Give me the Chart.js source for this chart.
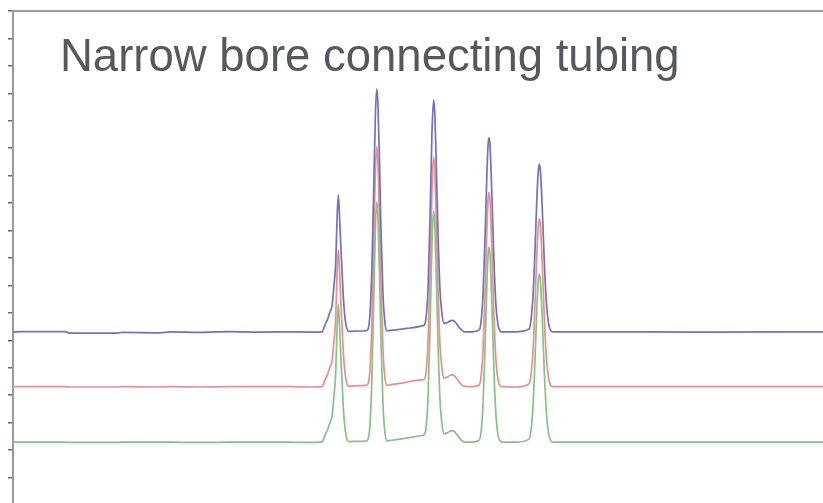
<!DOCTYPE html>
<html>
<head>
<meta charset="utf-8">
<script src="https://cdn.jsdelivr.net/npm/chart.js@4"></script>
<style>
  html, body { margin: 0; padding: 0; background: #fff; overflow: hidden; }
  #wrap { position: relative; width: 823px; height: 505px; }
</style>
</head>
<body>
<div id="wrap"><canvas id="myChart"></canvas></div>
<script>
const chartTitle = 'Narrow bore connecting tubing'

// retention time, min
const times = [
  0, 0.27, 0.52, 0.57, 1.05, 1.09, 1.47, 1.57, 1.87, 2.17, 2.47, 2.77, 2.97,
  3.09, 3.12, 3.15, 3.17, 3.19, 3.21, 3.227, 3.24, 3.253, 3.265, 3.28, 3.29, 3.305, 3.32, 3.335, 3.35, 3.37,
  3.45, 3.53,
  3.55, 3.57, 3.59, 3.61, 3.625, 3.638, 3.65, 3.665, 3.68, 3.70, 3.72, 3.74,
  3.77, 3.87, 3.97, 4.05,
  4.09, 4.11, 4.13, 4.15, 4.17, 4.19, 4.207, 4.22, 4.235, 4.25, 4.27, 4.29, 4.31, 4.34, 4.37, 4.40, 4.43, 4.46, 4.49, 4.52,
  4.59,
  4.66, 4.68, 4.70, 4.72, 4.74, 4.75, 4.76, 4.77, 4.79, 4.81, 4.83, 4.85, 4.87, 4.89,
  5.02,
  5.16, 5.18, 5.20, 5.22, 5.24, 5.253, 5.263, 5.275, 5.295, 5.315, 5.335, 5.355, 5.375, 5.40,
  5.87, 6.87, 8.10
]

// detector signal, mAU (traces shown offset)
const blueTrace = [
  63.1, 63.2, 63.2, 62.6, 62.6, 62.9, 62.75, 63.05, 62.9, 63.2, 63.0, 63.1, 63.0,
  63.1, 65.6, 68.1, 70.3, 72.5, 80.1, 88.1, 103.8, 112.9, 105.6, 92.9, 85.6, 74.7, 68.1, 64.8, 63.4, 63.3,
  63.4, 63.5,
  64.1, 69.6, 87.8, 120.2, 143.5, 151.5, 145.4, 125.0, 100.2, 76.5, 66.3, 63.5,
  63.6, 64.0, 64.5, 64.9,
  65.3, 65.5, 68.0, 78.7, 104.2, 136.2, 147.5, 141.0, 120.6, 99.4, 78.3, 69.6, 66.2, 66.4, 67.1, 67.3, 66.3, 64.8, 63.6, 63.1,
  63.1,
  63.7, 66.6, 76.5, 96.9, 121.7, 130.8, 133.9, 131.1, 111.8, 88.5, 72.5, 65.6, 63.5, 63.1,
  63.1,
  64.1, 67.4, 76.1, 92.9, 112.9, 121.7, 124.2, 121.3, 106.0, 86.9, 73.2, 66.3, 63.7, 63.1,
  63.1, 63.0, 63.1
]

const redTrace = [
  43.1, 43.1, 43.1, 43.0, 43.0, 43.1, 43.0, 43.1, 43.0, 43.1, 43.1, 43.1, 43.0,
  43.1, 45.6, 48.1, 50.3, 52.5, 60.1, 68.1, 83.8, 93.0, 85.6, 72.9, 65.6, 54.7, 48.1, 44.8, 43.4, 43.3,
  43.5, 43.6,
  44.1, 49.5, 67.5, 99.7, 122.7, 130.6, 124.6, 104.4, 79.8, 56.3, 46.2, 43.6,
  43.8, 44.3, 45.0, 45.5,
  45.6, 45.8, 48.3, 58.8, 84.0, 115.6, 126.9, 120.4, 100.1, 79.1, 58.2, 49.6, 46.3, 46.5, 47.2, 47.4, 46.4, 44.9, 43.7, 43.2,
  43.1,
  43.7, 46.6, 56.5, 76.9, 101.7, 110.8, 113.9, 111.1, 91.8, 68.5, 52.5, 45.6, 43.5, 43.1,
  43.0,
  44.1, 47.4, 56.1, 72.9, 92.9, 101.7, 104.3, 101.3, 86.0, 66.9, 53.2, 46.3, 43.7, 43.1,
  43.1, 43.1, 43.1
]

const greenTrace = [
  22.9, 22.9, 22.9, 22.8, 22.8, 22.9, 22.9, 22.9, 22.8, 22.9, 22.9, 22.9, 22.8,
  22.9, 25.4, 27.9, 30.1, 32.3, 40.0, 48.1, 63.8, 73.2, 65.6, 52.8, 45.4, 34.5, 27.9, 24.6, 23.2, 23.1,
  23.2, 23.3,
  24.0, 29.4, 47.4, 79.5, 102.5, 110.4, 104.4, 84.2, 59.7, 36.3, 26.2, 23.4,
  23.5, 24.0, 24.6, 25.1,
  25.4, 25.6, 28.1, 38.7, 64.0, 95.8, 107.1, 100.6, 80.4, 59.3, 38.2, 29.5, 26.0, 26.2, 26.9, 27.1, 26.1, 24.6, 23.4, 22.9,
  22.9,
  23.6, 26.5, 36.4, 56.9, 81.8, 90.9, 94.0, 91.2, 71.8, 48.5, 32.4, 25.5, 23.4, 22.9,
  22.9,
  24.0, 27.3, 36.0, 52.8, 72.8, 81.6, 84.1, 81.2, 65.9, 46.8, 33.1, 26.2, 23.6, 22.9,
  22.9, 22.9, 22.9
]

const timeMin = 0
const timeMax = 8.1
const signalMin = 0
const signalMax = 180
const signalStep = 10

function toPoints (ys) {
  return times.map((t, i) => ({ x: t, y: ys[i] }))
}

function trace (label, ys, color) {
  return {
    label,
    data: toPoints(ys),
    borderColor: color,
    borderWidth: 1.7,
    pointRadius: 0,
    fill: false,
    cubicInterpolationMode: 'monotone'
  }
}

// title sits inside the plot frame, so draw it on the canvas directly
const insideTitle = {
  id: 'insideTitle',
  afterDraw (chart) {
    const { ctx, chartArea } = chart
    ctx.save()
    ctx.font = '45.5px "Liberation Sans", Arial, sans-serif'
    ctx.fillStyle = '#55585d'
    ctx.textBaseline = 'alphabetic'
    ctx.fillText(chartTitle, chartArea.left + 47, chartArea.top + 59.5)
    ctx.restore()
  }
}

const ctx = document.getElementById('myChart').getContext('2d')
new Chart(ctx, {
  type: 'line',
  data: {
    datasets: [
      trace('Run 1', blueTrace, '#7073b8'),
      trace('Run 2', redTrace, '#e79090'),
      trace('Run 3', greenTrace, '#86c286')
    ]
  },
  options: {
    responsive: true,
    maintainAspectRatio: false,
    animation: false,
    layout: { padding: 0 },
    plugins: {
      legend: { display: false },
      tooltip: { enabled: false }
    },
    scales: {
      x: {
        type: 'linear',
        position: 'top',
        min: timeMin,
        max: timeMax,
        grid: { drawOnChartArea: false, drawTicks: false },
        border: { color: '#9a9a9a', width: 2 },
        ticks: { display: false },
        afterFit (scale) { scale.height = 11 }
      },
      y: {
        min: signalMin,
        max: signalMax,
        grid: { drawOnChartArea: false, drawTicks: true, tickLength: 5, color: '#666', lineWidth: 1.5 },
        border: { color: '#9a9a9a', width: 2 },
        ticks: { display: false, stepSize: signalStep },
        afterFit (scale) { scale.width = 13 }
      }
    }
  },
  plugins: [insideTitle]
})
</script>
</body>
</html>
